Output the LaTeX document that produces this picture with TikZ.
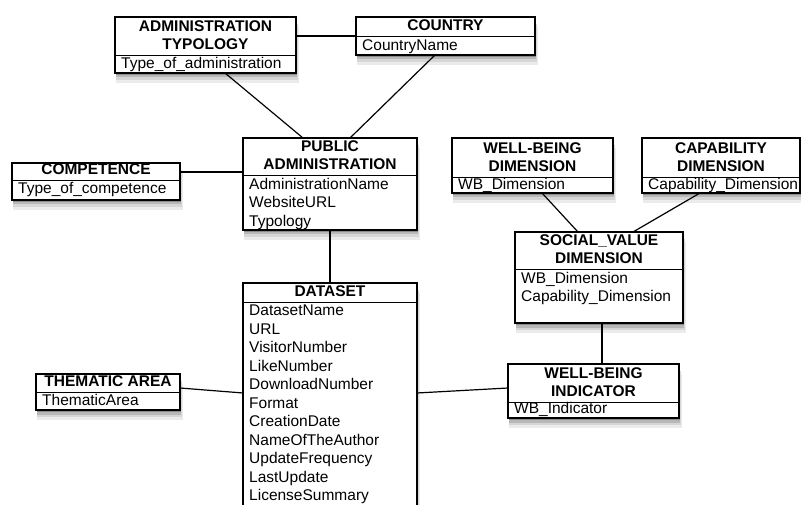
\documentclass[tikz,border=0pt]{standalone}
\usepackage{fontspec}
\setmainfont{Liberation Sans}
% #1 baseline offset of first attribute below divider
\newcommand\entity[9][14]{%
  \fill[shadowA] (#3-1+2,#4+10) rectangle (#3+#5+1+2,#4+#6+10);
  \fill[shadowB] (#3-0.5+1.5,#4+7) rectangle (#3+#5+0.5+1.5,#4+#6+7);
  \fill[shadowC] (#3+1,#4+4.5) rectangle (#3+#5+1,#4+#6+4.5);
  \fill[shadowD] (#3+0.5,#4+2) rectangle (#3+#5+0.5,#4+#6+2);
  \node[ebox, minimum width=#5pt, minimum height=#6pt] (#2) at (#3,#4) {};
  \draw[divline] ([yshift=-#7pt]#2.north west) -- ([yshift=-#7pt]#2.north east);
  \node[etitle] (#2t) at ([yshift=-#7pt-0.5pt]#2.north) {#8};
  \node[eattr] (#2a) at ([xshift=6pt,yshift=-#7pt-#1pt+12.95pt]#2.north west) {#9};
}
\definecolor{shA}{gray}{0.92}
\definecolor{shB}{gray}{0.84}
\definecolor{shC}{gray}{0.72}
\definecolor{shD}{gray}{0.55}
\tikzset{
  shadowA/.style={fill=shA}, shadowB/.style={fill=shB},
  shadowC/.style={fill=shC}, shadowD/.style={fill=shD},
  ebox/.style={draw, fill=white, line width=1.6pt, anchor=north west, inner sep=0pt, outer sep=0pt},
  divline/.style={line width=0.9pt},
  etitle/.style={anchor=south, inner sep=0pt, align=center, font=\fontsize{15.5}{18.5}\selectfont\bfseries},
  eattr/.style={anchor=north west, inner sep=0pt, align=left, font=\fontsize{15.5}{18.5}\selectfont},
  conn/.style={line width=1.2pt}
}
\begin{document}
\begin{tikzpicture}[x=1pt, y=-1pt]
\useasboundingbox (0,0) rectangle (801,505);
\fill[white] (0,0) rectangle (801,505);
\clip (0,0) rectangle (801,505);
\entity[13.3]{at}{115}{17}{181}{56}{38}{\strut ADMINISTRATION\\\strut TYPOLOGY}{\strut Type\_of\_administration}
\entity[14]{country}{356}{17}{179}{38}{19}{\strut COUNTRY}{\strut CountryName}
\entity[14.3]{pa}{243}{138}{174}{92}{37}{\strut PUBLIC\\\strut ADMINISTRATION}{\strut AdministrationName\\\strut WebsiteURL\\\strut Typology}
\entity[13.3]{comp}{12}{163}{168}{37}{17}{\strut COMPETENCE}{\strut Type\_of\_competence}
\entity[12.3]{wbd}{452}{138}{161}{55}{39}{\strut WELL-BEING\\\strut DIMENSION}{\strut WB\_Dimension}
\entity[12.5]{cd}{642}{138}{158}{55}{39}{\strut CAPABILITY\\\strut DIMENSION}{\strut Capability\_Dimension}
\entity[14]{sv}{515}{232}{168}{91}{37}{\strut SOCIAL\_VALUE\\\strut DIMENSION}{\strut WB\_Dimension\\\strut Capability\_Dimension}
\entity[13.7]{dataset}{243}{283}{174}{240}{19}{\strut DATASET}{\strut DatasetName\\\strut URL\\\strut VisitorNumber\\\strut LikeNumber\\\strut DownloadNumber\\\strut Format\\\strut CreationDate\\\strut NameOfTheAuthor\\\strut UpdateFrequency\\\strut LastUpdate\\\strut LicenseSummary}
\entity[13]{ta}{36}{374}{144}{36}{18}{\strut THEMATIC AREA}{\strut ThematicArea}
\entity[11.5]{wbi}{508}{364}{171}{54}{38}{\strut WELL-BEING\\\strut INDICATOR}{\strut WB\_Indicator}
% connectors
\draw[conn] (at.east |- country.west) -- (country.west);
\draw[conn] ([xshift=110pt]at.south west) -- ([xshift=60pt]pa.north west);
\draw[conn] ([xshift=79pt]country.south west) -- ([xshift=107pt]pa.north west);
\coordinate (c1) at ([yshift=-9pt]comp.north east);
\draw[conn] (c1) -- (c1 -| pa.west);
\draw[conn] (pa.south) -- (dataset.north);
\draw[conn] ([xshift=90pt]wbd.south west) -- ([xshift=63pt]sv.north west);
\draw[conn] ([xshift=58pt]cd.south west) -- ([xshift=118pt]sv.north west);
\draw[conn] ([xshift=87pt]sv.south west) -- ([xshift=94pt]wbi.north west);
\draw[conn] ([yshift=-14pt]ta.north east) -- ([yshift=-110pt]dataset.north west);
\draw[conn] ([yshift=-110pt]dataset.north east) -- ([yshift=-24pt]wbi.north west);
\end{tikzpicture}
\end{document}
